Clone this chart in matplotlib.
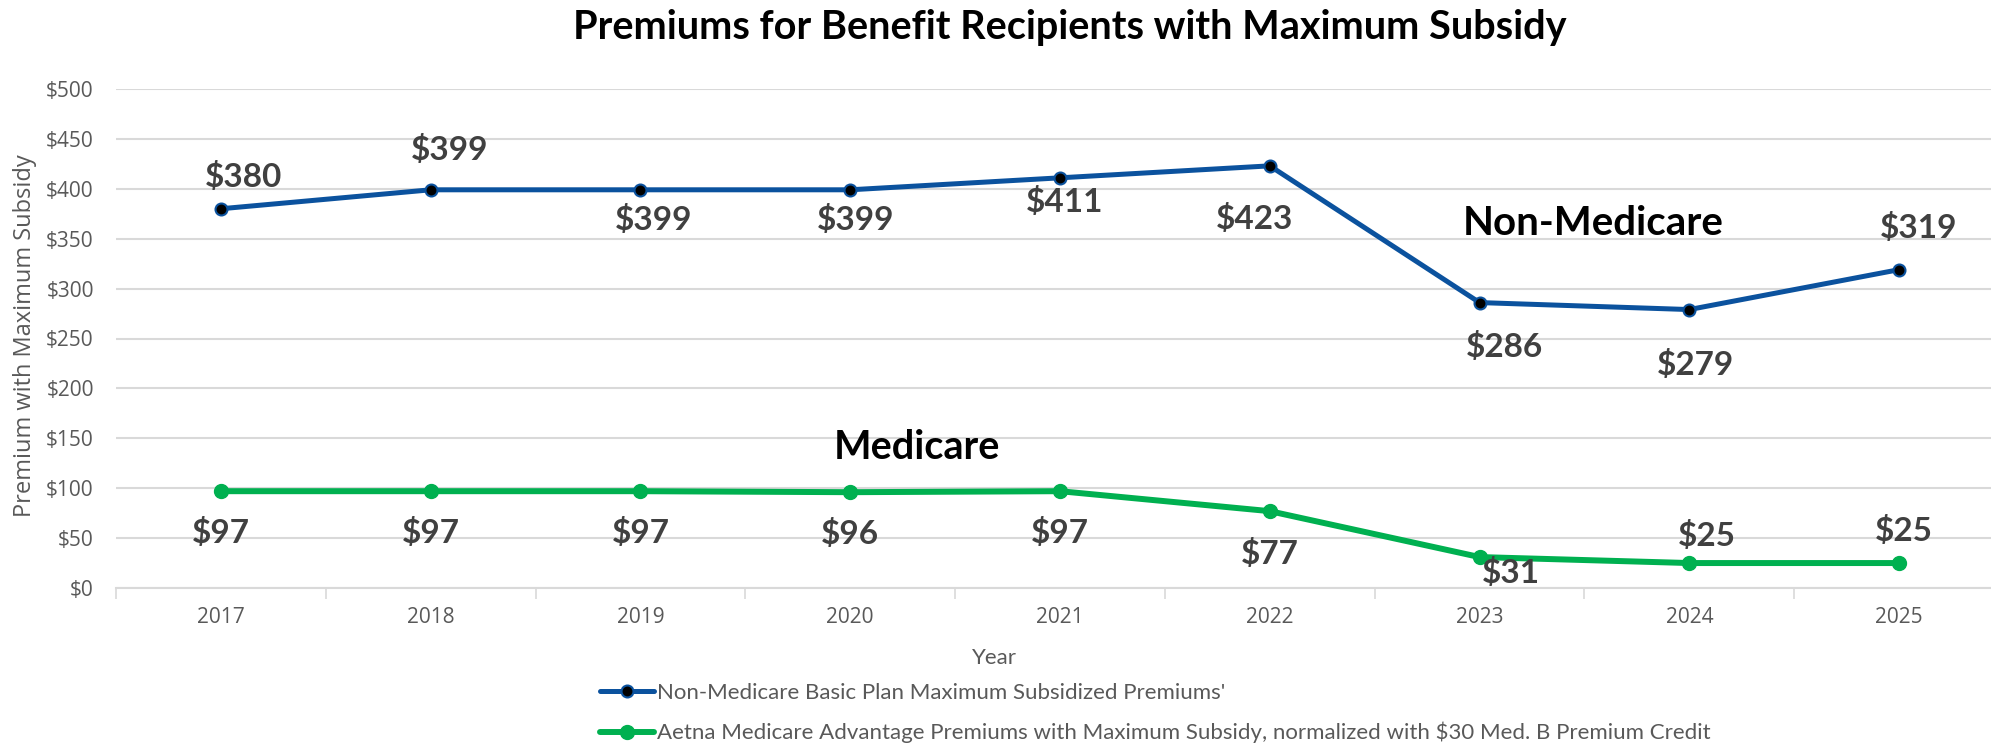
import matplotlib
matplotlib.use("Agg")
import matplotlib.pyplot as plt
from matplotlib.ticker import FuncFormatter, FixedLocator

years = ["2017", "2018", "2019", "2020", "2021", "2022", "2023", "2024", "2025"]
non_medicare = [380, 399, 399, 399, 411, 423, 286, 279, 319]
medicare = [97, 97, 97, 96, 97, 77, 31, 25, 25]

non_medicare_label = "Non-Medicare Basic Plan Maximum Subsidized Premiums'"
medicare_label = "Aetna Medicare Advantage Premiums with Maximum Subsidy, normalized with $30 Med. B Premium Credit"
title = "Premiums for Benefit Recipients with Maximum Subsidy"
y_title = "Premium with Maximum Subsidy"
x_title = "Year"

# label offsets (pixels) relative to each point
nm_offsets = [(23, 32), (19, 40), (13, -30), (5, -30), (5, -24), (-15, -53), (25, -44), (6, -55), (20, 42)]
m_offsets = [(0, -42), (0, -42), (0, -42), (0, -42), (0, -42), (0, -43), (31, -16), (18, 27), (5, 32)]

BLUE = "#0B529E"
GREEN = "#00B050"
GRAY = "#595959"
LABEL = "#404040"
GRID = "#D9D9D9"

W, H = 1991, 750
fig = plt.figure(figsize=(W / 100, H / 100), dpi=100)
ax = fig.add_axes([116 / W, 162 / H, (2004 - 116) / W, (588 - 89) / H])

x = list(range(len(years)))
ax.plot(x, non_medicare, color=BLUE, lw=3.6, marker="o", ms=8.6,
        mfc="black", mec=BLUE, mew=1.5, label=non_medicare_label, zorder=3,
        solid_capstyle="round")
ax.plot(x, medicare, color=GREEN, lw=4.3, marker="o", ms=10,
        mfc=GREEN, mec=GREEN, label=medicare_label, zorder=3,
        solid_capstyle="round")

for xi, v, (dx, dy) in zip(x, non_medicare, nm_offsets):
    ax.annotate(f"${v}", (xi, v), xytext=(dx, dy), textcoords="offset pixels",
                ha="center", va="center", fontsize=24, fontweight="bold",
                family="Lato", color=LABEL, zorder=4)
for xi, v, (dx, dy) in zip(x, medicare, m_offsets):
    ax.annotate(f"${v}", (xi, v), xytext=(dx, dy), textcoords="offset pixels",
                ha="center", va="center", fontsize=24, fontweight="bold",
                family="Lato", color=LABEL, zorder=4)

ax.text(6.54, 365, "Non-Medicare", ha="center", va="center", fontsize=29,
        fontweight="bold", family="Lato", color="black")
ax.text(3.32, 141, "Medicare", ha="center", va="center", fontsize=28.5,
        fontweight="bold", family="Lato", color="black")

ax.set_xlim(-0.5, len(years) - 0.5)
ax.set_ylim(0, 500)
ax.set_yticks(range(0, 501, 50))
ax.yaxis.set_major_formatter(FuncFormatter(lambda v, p: f"${int(v)}"))
ax.set_xticks(x)
ax.set_xticklabels(years)
ax.xaxis.set_minor_locator(FixedLocator([i - 0.5 for i in range(len(years) + 1)]))
ax.tick_params(axis="x", which="major", length=0, pad=14, labelsize=15, labelcolor=GRAY)
ax.tick_params(axis="x", which="minor", length=8, width=1.2, color=GRID)
ax.tick_params(axis="y", length=0, pad=16, labelsize=15, labelcolor=GRAY)
for lab in ax.get_xticklabels() + ax.get_yticklabels():
    lab.set_family("Open Sans")

ax.grid(axis="y", color=GRID, lw=1.5, zorder=0)
ax.set_axisbelow(True)
for s in ["top", "right", "left"]:
    ax.spines[s].set_visible(False)
ax.spines["bottom"].set_color(GRID)
ax.spines["bottom"].set_linewidth(1.5)

fig.text(25 / W, 1 - 336 / H, y_title, rotation=90, ha="center", va="center",
         fontsize=17, color=GRAY, family="Open Sans")
fig.text(994 / W, 1 - 658 / H, x_title, ha="center", va="center", fontsize=16,
         color=GRAY, family="Lato")
fig.text(1070 / W, 1 - 27 / H, title, ha="center", va="center", fontsize=28.5,
         fontweight="bold", family="Lato", color="black")

leg = fig.legend(loc="upper left", bbox_to_anchor=(600 / W, 1 - 683 / H),
                 frameon=False, handlelength=2.45, handletextpad=0.1,
                 labelspacing=0.85, borderaxespad=0, borderpad=0,
                 prop={"family": "Lato", "size": 16})
for t in leg.get_texts():
    t.set_color(GRAY)

fig.savefig("out.png", dpi=100)
